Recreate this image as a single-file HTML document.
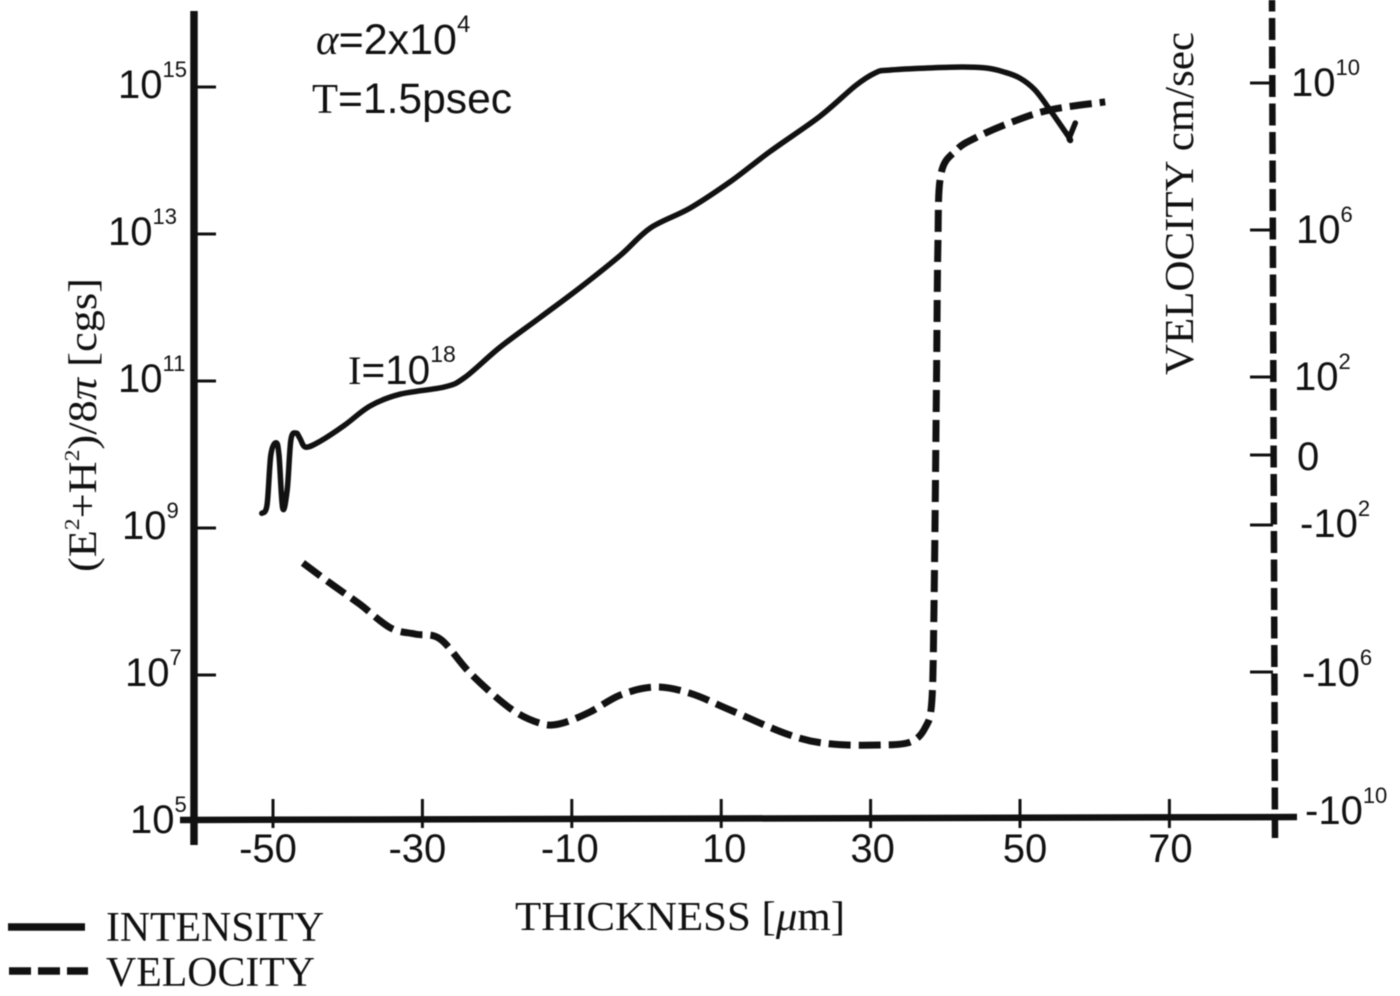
<!DOCTYPE html>
<html lang="en">
<head>
<meta charset="utf-8">
<title>Intensity and velocity versus thickness</title>
<style>
html,body{margin:0;padding:0;background:#fff;}
svg{display:block;filter:blur(0.4px);}
text{fill:#111;}
.sans{font-family:"Liberation Sans",sans-serif;}
.serif{font-family:"Liberation Serif",serif;}
</style>
</head>
<body>
<svg id="chart" xmlns="http://www.w3.org/2000/svg" width="1400" height="996" viewBox="0 0 1400 996">
  <rect x="0" y="0" width="1400" height="996" fill="#fff"/>

  <text class="sans" x="316" y="54" font-size="43"><tspan class="serif" font-style="italic">α</tspan>=2x10<tspan font-size="24" dy="-22">4</tspan></text>
  <text class="sans" x="312" y="113" font-size="42.6"><tspan class="serif">T</tspan>=1.5psec</text>
  <text class="sans" x="348" y="384" font-size="40.5"><tspan class="serif">I</tspan>=10<tspan font-size="23" dy="-22">18</tspan></text>

  <text class="serif" transform="translate(96,572) rotate(-90)" font-size="40" textLength="294" lengthAdjust="spacingAndGlyphs">(E<tspan font-size="21" dy="-17">2</tspan><tspan dy="17">+H</tspan><tspan font-size="21" dy="-17">2</tspan><tspan dy="17">)/8</tspan><tspan font-style="italic">π</tspan> [cgs]</text>
  <text class="serif" transform="translate(1193,375) rotate(-90)" font-size="41" textLength="343" lengthAdjust="spacingAndGlyphs">VELOCITY cm/sec</text>
  <text class="serif" x="515" y="930" font-size="41" textLength="330" lengthAdjust="spacingAndGlyphs">THICKNESS [<tspan font-style="italic">μ</tspan>m]</text>

  <line x1="8" y1="927" x2="85" y2="927" stroke="#111" stroke-width="7.5"/>
  <line x1="9" y1="971" x2="88" y2="971" stroke="#111" stroke-width="7.5" stroke-dasharray="22 7"/>
  <text class="serif" x="106" y="941" font-size="42" textLength="218" lengthAdjust="spacingAndGlyphs">INTENSITY</text>
  <text class="serif" x="106" y="986" font-size="42" textLength="209" lengthAdjust="spacingAndGlyphs">VELOCITY</text>
</svg>
<script>
// Chart data
const xTickValues = [-50, -30, -10, 10, 30, 50, 70];
const leftTickExponents = [15, 13, 11, 9, 7, 5];
const rightTickExponents = [10, 6, 2, 0, -2, -6, -10];

const intensityThickness = [-51.5, -50.8, -50.3, -49.6, -49.2, -48.7, -48.1, -47.6, -46.9, -46.4, -45.6, -43.7, -40.4, -37, -33, -27, -24.3, -19.6, -14.3, -8.9, -3.5, 0.5, 5.8, 11.2, 16.5, 23.2, 28, 30.6, 32.5, 40.6, 45.3, 48, 50, 52, 54, 56.6, 56.6, 57.4];
const intensityLog10 = [9.2, 9.31, 9.99, 10.16, 9.99, 9.27, 9.52, 10.2, 10.29, 10.22, 10.1, 10.18, 10.4, 10.66, 10.82, 10.92, 11.05, 11.46, 11.86, 12.27, 12.71, 13.08, 13.35, 13.71, 14.12, 14.6, 15.02, 15.19, 15.23, 15.27, 15.26, 15.2, 15.12, 14.96, 14.69, 14.31, 14.31, 14.51];

const velocityThickness = [-46, -42.4, -38.4, -34.3, -31, -27.6, -23.6, -18.3, -14.3, -11.6, -7.6, -3.5, 1.1, 5.8, 11.2, 19.2, 24.6, 31.3, 35.3, 37.3, 38.2, 38.5, 38.8, 39, 39.4, 41.5, 44, 48.7, 54, 61.4];
const velocitySignedExponent = [-3.01, -3.56, -4.14, -4.79, -4.96, -5.1, -6.03, -6.99, -7.4, -7.42, -7.1, -6.63, -6.41, -6.58, -7.04, -7.73, -7.97, -8, -7.92, -7.53, -6.77, -4.03, 1.45, 5.56, 7.62, 8.3, 8.63, 9.05, 9.4, 9.62];

// Axis functions
function xScale(t) { return 273 + (t + 50) * 7.47; }
function yLeft(e) { return 87 + (15 - e) * 73.5; }
function yRight(e) { return 453 - e * 36.5; }

const SVG_NS = 'http://www.w3.org/2000/svg';
const svg = document.getElementById('chart');

function make(tag, attrs) {
  const el = document.createElementNS(SVG_NS, tag);
  for (const k in attrs) el.setAttribute(k, attrs[k]);
  svg.appendChild(el);
  return el;
}

function smoothPath(pts) {
  let d = 'M' + pts[0][0].toFixed(1) + ' ' + pts[0][1].toFixed(1);
  for (let i = 0; i < pts.length - 1; i++) {
    const p0 = pts[Math.max(i - 1, 0)], p1 = pts[i], p2 = pts[i + 1], p3 = pts[Math.min(i + 2, pts.length - 1)];
    const k = 1 / 6;
    d += ' C' + (p1[0] + (p2[0] - p0[0]) * k).toFixed(1) + ' ' + (p1[1] + (p2[1] - p0[1]) * k).toFixed(1) +
         ' ' + (p2[0] - (p3[0] - p1[0]) * k).toFixed(1) + ' ' + (p2[1] - (p3[1] - p1[1]) * k).toFixed(1) +
         ' ' + p2[0].toFixed(1) + ' ' + p2[1].toFixed(1);
  }
  return d;
}

function expLabel(x, baseline, base, sup) {
  const t = make('text', {x: x, y: baseline, 'font-size': 40, 'class': 'sans'});
  t.appendChild(document.createTextNode(base));
  if (sup !== null) {
    const s = document.createElementNS(SVG_NS, 'tspan');
    s.setAttribute('font-size', 22);
    s.setAttribute('dy', -21);
    s.textContent = sup;
    t.appendChild(s);
  }
  return t;
}

// Axes
const leftAxis = make('line', {x1: 194, y1: 11, x2: 194, y2: 845, stroke: '#111', 'stroke-width': 7.5});



const bottomAxis = make('line', {x1: 180, y1: 820, x2: 1297, y2: 817, stroke: '#111', 'stroke-width': 6.5});



const rightAxis = make('line', {x1: 1272, y1: 0, x2: 1275, y2: 838, stroke: '#111', 'stroke-width': 6.5, 'stroke-dasharray': '22 6.5', 'stroke-dashoffset': 10.5});



// X ticks
const xLabelNudge = {'-50': -5, '-30': -5, '-10': -2, '10': 3, '30': 2, '50': 5, '70': 1};
xTickValues.forEach(function (v) {
  const px = xScale(v);
  const tick = make('line', {x1: px, y1: 799, x2: px, y2: 828, stroke: '#111', 'stroke-width': 3});
  
  
  const label = make('text', {x: px + xLabelNudge[v], y: 862, 'font-size': 40, 'class': 'sans', 'text-anchor': 'middle'});
  label.textContent = String(v);
  
  
});

// Left ticks
const leftLabelStart = {15: 118, 13: 108, 11: 118, 9: 122, 7: 125, 5: 130};
leftTickExponents.forEach(function (e) {
  const py = yLeft(e);
  if (e !== 5) {
    const tick = make('line', {x1: 197, y1: py, x2: 216, y2: py, stroke: '#111', 'stroke-width': 3});
    
    
  }
  const label = expLabel(leftLabelStart[e], py + 11, '10', String(e));
  
  
});

// Right ticks
const rightLabelStart = {'10': 1291, '6': 1296, '2': 1294, '0': 1297, '-2': 1300, '-6': 1302, '-10': 1305};
const rightTickNudge = {'10': -5, '6': -4, '2': -3, '0': 2, '-2': -1, '-6': 0};
const rightBaselineNudge = {'10': 8, '6': 9, '2': 10, '0': 17, '-2': 11, '-6': 14, '-10': 6};
rightTickExponents.forEach(function (e) {
  const py = yRight(e);
  if (e !== -10) {
    const tick = make('line', {x1: 1250, y1: py + rightTickNudge[e], x2: 1273, y2: py + rightTickNudge[e], stroke: '#111', 'stroke-width': 3});
    
    
  }
  let label;
  if (e === 0) {
    label = expLabel(rightLabelStart[e], py + rightBaselineNudge[e], '0', null);
  } else {
    label = expLabel(rightLabelStart[e], py + rightBaselineNudge[e], e < 0 ? '-10' : '10', String(Math.abs(e)));
  }
  
  
});

// Series
const intensityPoints = intensityThickness.map(function (t, i) { return [xScale(t), yLeft(intensityLog10[i])]; });
const intensityLine = make('path', {d: smoothPath(intensityPoints), fill: 'none', stroke: '#111', 'stroke-width': 5.5, 'stroke-linejoin': 'round', 'stroke-linecap': 'round'});



const velocityPoints = velocityThickness.map(function (t, i) { return [xScale(t), yRight(velocitySignedExponent[i])]; });
const velocityLine = make('path', {d: smoothPath(velocityPoints), fill: 'none', stroke: '#111', 'stroke-width': 7, 'stroke-dasharray': '22 8'});


</script>
</body>
</html>
